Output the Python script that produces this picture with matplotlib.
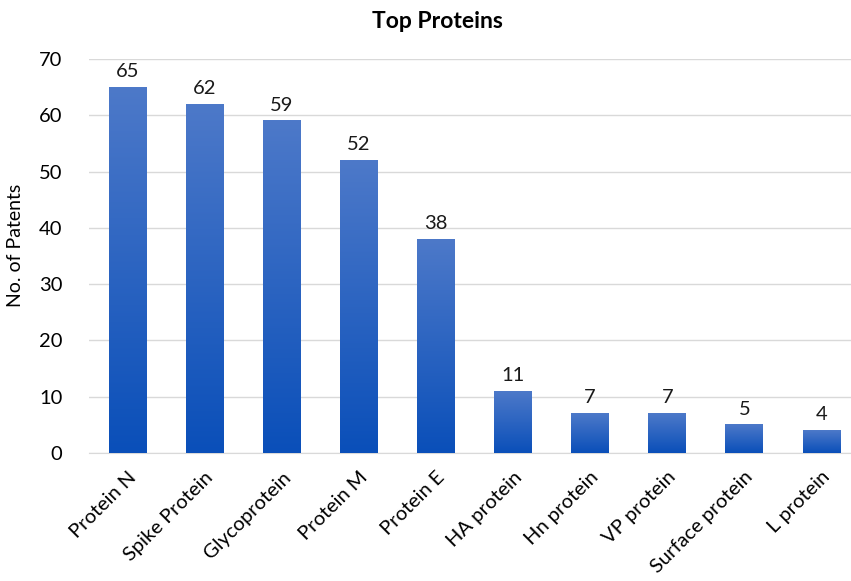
import numpy as np
import matplotlib.pyplot as plt
from matplotlib.colors import LinearSegmentedColormap

# protein categories and patent counts
proteins = ["Protein N", "Spike Protein", "Glycoprotein", "Protein M", "Protein E",
            "HA protein", "Hn protein", "VP protein", "Surface protein", "L protein"]
patents = [65, 62, 59, 52, 38, 11, 7, 7, 5, 4]
yticks = [0, 10, 20, 30, 40, 50, 60, 70]

plt.rcParams['font.family'] = ['Lato', 'DejaVu Sans']

fig = plt.figure(figsize=(8.51, 5.81), dpi=100)
ax = fig.add_axes([89 / 851, 1 - 453 / 581, 771 / 851, 394 / 581])

x = np.arange(len(proteins))
bars = ax.bar(x, patents, width=0.49, color='none', zorder=3)

# vertical gradient for each bar, lighter on top
grad_cmap = LinearSegmentedColormap.from_list('bluegrad', ['#0a4fb9', '#4d79c9'])
grad = np.linspace(0, 1, 256).reshape(-1, 1)
for b in bars:
    x0, w, h = b.get_x(), b.get_width(), b.get_height()
    ax.imshow(grad, cmap=grad_cmap, origin='lower', aspect='auto',
              extent=[x0, x0 + w, 0, h], zorder=3)

for xi, v in zip(x, patents):
    ax.text(xi, v + 1.3, str(v), ha='center', va='bottom', fontsize=14.5, color='#1a1a1a')

ax.set_xlim(-0.5, len(proteins) - 0.5)
ax.set_ylim(0, 70)
ax.set_yticks(yticks)
ax.set_xticks(x)
ax.set_xticklabels(proteins, rotation=45, ha='right', rotation_mode='anchor', fontsize=14.5)
ax.tick_params(axis='y', labelsize=14.5, length=0, pad=19)
ax.tick_params(axis='x', length=0, pad=11)
ax.grid(axis='y', color='#d9d9d9', linewidth=1, zorder=0)
for s in ['top', 'right', 'left']:
    ax.spines[s].set_visible(False)
ax.spines['bottom'].set_color('#d9d9d9')

fig.text(16 / 851, 1 - 245 / 581, "No. of Patents", rotation=90, ha='center', va='center', fontsize=14)
fig.text(437 / 851, 1 - 22 / 581, "Top Proteins", ha='center', va='center', fontsize=16.5, fontweight='bold')

plt.savefig("out.png", dpi=100)
